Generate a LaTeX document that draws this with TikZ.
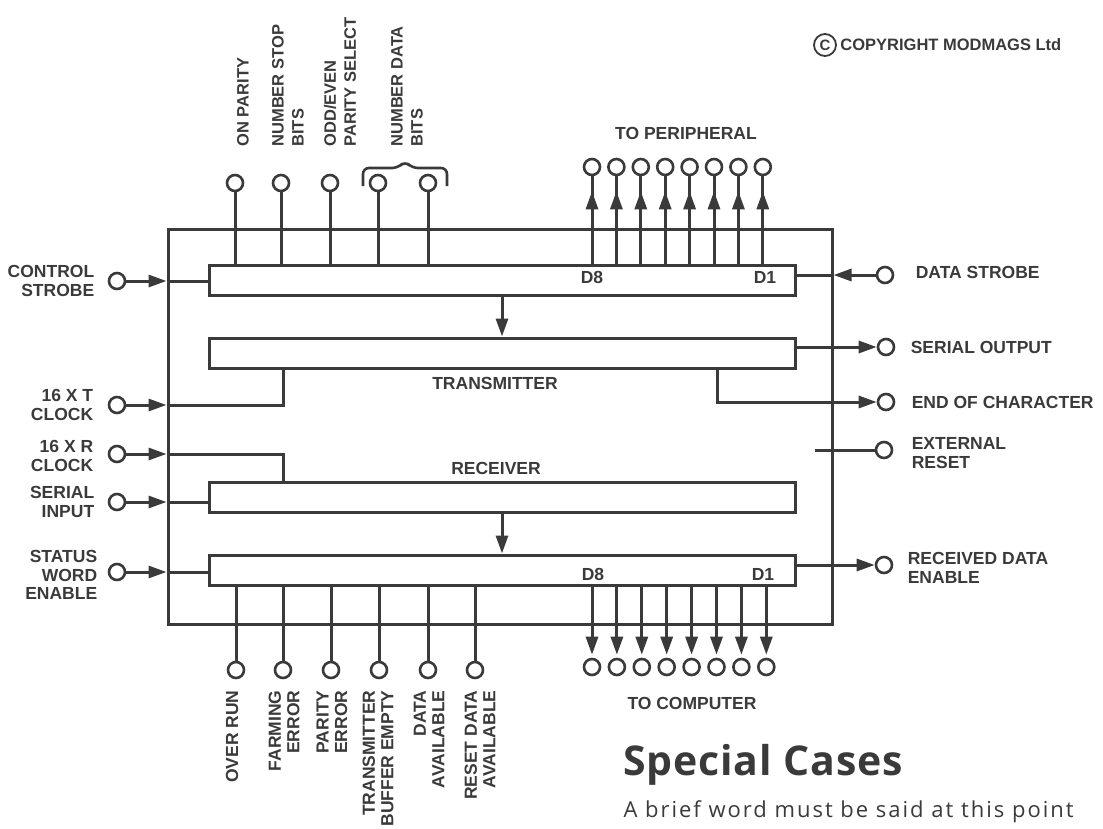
\documentclass[tikz,border=0pt]{standalone}
\usepackage{fontspec}
\setmainfont{Liberation Sans}
\newfontfamily\headfont[LetterSpace=2]{Open Sans}
\newfontfamily\bodyfont[LetterSpace=9]{Open Sans}
\usetikzlibrary{arrows.meta,positioning}
\definecolor{ink}{HTML}{3A3A3A}

\begin{document}
\begin{tikzpicture}[x=1pt, y=-1pt, >={Triangle[length=18pt,width=12pt]}, line width=3pt, color=ink,
  font=\fontsize{17.5}{18.5}\selectfont\bfseries]

% Styles
\tikzstyle{term} = [circle, draw, fill=white, minimum size=16pt, inner sep=0pt, line width=2.6pt]
\tikzstyle{reg} = [draw, rectangle, minimum width=586pt, minimum height=30pt, inner sep=0pt]
\tikzstyle{lbl} = [inner sep=0pt]
\tikzstyle{toplbl} = [inner sep=0pt, rotate=90, anchor=west, align=left, font=\fontsize{16.5}{20}\selectfont\bfseries]
\tikzstyle{botlbl} = [inner sep=0pt, rotate=90, anchor=east, align=right]

\useasboundingbox (0,0) rectangle (1103,828);

% Chip and registers
\node[draw, rectangle, minimum width=664pt, minimum height=395pt, inner sep=0pt] (chip) at (500,426.5) {};
\node[reg] (inreg) at (502,280.5) {};
\node[reg] (txreg) at (502,353) {};
\node[reg] (rxreg) at (502,497.5) {};
\node[reg] (outreg) at (502,570) {};
\draw[->] (inreg) -- (txreg);
\draw[->] (rxreg) -- (outreg);
\node[lbl] (txlbl) at (495,383) {TRANSMITTER};
\node[lbl] (rxlbl) at (496,468) {RECEIVER};

% Control inputs on top
\foreach \x/\n in {235/onpar, 281/nstop, 330/oddeven, 378/ndata, 428/ndatb} {
  \node[term] (\n) at (\x,183) {};
  \draw (\n) -- (\n |- inreg.north);
}
\node[toplbl] (onparlbl) at (243,148) {ON PARITY};
\node[toplbl] (nstoplbl) at (288,148) {NUMBER STOP\\BITS};
\node[toplbl] (oddevenlbl) at (340,148) {ODD/EVEN\\PARITY SELECT};
\node[toplbl] (ndatalbl) at (407,148) {NUMBER DATA\\BITS};
\draw[line width=2.6pt, rounded corners=6pt] (363,186) -- (363,168) -- (398,168) -- (405,161) -- (412,168) -- (447,168) -- (447,186);

% To peripheral
\foreach \i in {1,...,8} {
  \pgfmathsetmacro{\x}{592+(\i-1)*24.4}
  \node[term] (per\i) at (\x,167) {};
  \draw (per\i) -- (per\i |- inreg.north);
  \draw[->] (per\i |- inreg.north) -- ([yshift=-15pt]per\i.south);
}
\node[lbl] (perlbl) at (686,133) {TO PERIPHERAL};
\node[lbl] (d8in) at (592,277) {D8};
\node[lbl] (d1in) at (765,277) {D1};

% To computer
\foreach \i in {1,...,8} {
  \pgfmathsetmacro{\x}{592+(\i-1)*24.9}
  \node[term] (com\i) at (\x,667) {};
  \draw[->, shorten >=3pt] (com\i |- outreg.south) -- (com\i);
}
\node[lbl] (comlbl) at (692,703) {TO COMPUTER};
\node[lbl] (d8out) at (593,574) {D8};
\node[lbl] (d1out) at (763,574) {D1};

% Status outputs at the bottom
\foreach \x/\n in {236/ovr, 283/ferr, 331/perr, 379/tbe, 428/dav, 475/rda} {
  \node[term] (\n) at (\x,670) {};
  \draw (\n) -- (\n |- outreg.south);
}
\node[botlbl] (ovrlbl) at (232,689) {OVER RUN};
\node[botlbl] (ferrlbl) at (284,689) {FARMING\\ERROR};
\node[botlbl] (perrlbl) at (332,689) {PARITY\\ERROR};
\node[botlbl] (tbelbl) at (378,689) {TRANSMITTER\\BUFFER EMPTY};
\node[botlbl] (davlbl) at (429,689) {DATA\\AVAILABLE};
\node[botlbl] (rdalbl) at (480,689) {RESET DATA\\AVAILABLE};

% Left side
\node[term] (cstb) at (117,281) {};
\node[term] (tclk) at (117,405) {};
\node[term] (rclk) at (117,454) {};
\node[term] (sin) at (117,502) {};
\node[term] (swe) at (117,572) {};
\node[lbl, left=12pt of cstb, align=right] (cstblbl) {CONTROL\\STROBE};
\node[lbl, left=13pt of tclk, align=right] (tclklbl) {16 X T\\CLOCK};
\node[lbl, left=13pt of rclk, yshift=-2pt, align=right] (rclklbl) {16 X R\\CLOCK};
\node[lbl, left=12pt of sin, align=right] (sinlbl) {SERIAL\\INPUT};
\node[lbl, left=9pt of swe, yshift=-3pt, align=right] (swelbl) {STATUS\\WORD\\ENABLE};
\coordinate (ttap) at (283,368);
\coordinate (rtap) at (283,482);
\draw[->] (cstb) -- (cstb -| chip.west);
\draw (cstb -| chip.west) -- (cstb -| inreg.west);
\draw[->] (tclk) -- (tclk -| chip.west);
\draw (tclk -| chip.west) -| (ttap);
\draw[->] (rclk) -- (rclk -| chip.west);
\draw (rclk -| chip.west) -| (rtap);
\draw[->] (sin) -- (sin -| chip.west);
\draw (sin -| chip.west) -- (sin -| rxreg.west);
\draw[->] (swe) -- (swe -| chip.west);
\draw (swe -| chip.west) -- (swe -| outreg.west);

% Right side
\node[term] (dstb) at (885,275) {};
\node[term] (sout) at (886,347) {};
\node[term] (eoc) at (886,402) {};
\node[term] (xrst) at (884,450) {};
\node[term] (rde) at (884,565) {};
\node[lbl, right=20pt of dstb, yshift=3pt, align=left] (dstblbl) {DATA STROBE};
\node[lbl, right=14pt of sout, align=left] (soutlbl) {SERIAL OUTPUT};
\node[lbl, right=15pt of eoc, align=left] (eoclbl) {END OF CHARACTER};
\node[lbl, right=17pt of xrst, yshift=-3pt, align=left] (xrstlbl) {EXTERNAL\\RESET};
\node[lbl, right=13pt of rde, yshift=-3pt, align=left] (rdelbl) {RECEIVED DATA\\ENABLE};
\coordinate (etap) at (717,368);
\coordinate (rstend) at (815,450);
\draw[->] (dstb) -- (dstb -| chip.east);
\draw (dstb -| chip.east) -- (dstb -| inreg.east);
\draw[->] (sout -| txreg.east) -- (sout);
\draw[->] (etap) |- (eoc);
\draw (rstend) -- (xrst);
\draw[->] (rde -| outreg.east) -- (rde);

% Copyright and text
\node[circle, draw, line width=1.8pt, minimum size=22pt, inner sep=0pt, font=\fontsize{15}{15}\selectfont\bfseries] (cc) at (825,45) {C};
\node[lbl, right=2pt of cc, font=\fontsize{16.5}{18}\selectfont\bfseries] (copy) {COPYRIGHT MODMAGS Ltd};
\node[lbl, anchor=base west, font=\headfont\bfseries\fontsize{41}{46}\selectfont] (head) at (622,775) {Special Cases};
\node[lbl, anchor=base west, font=\bodyfont\fontsize{22}{24}\selectfont] (body) at (622,817) {A brief word must be said at this point};

\end{tikzpicture}
\end{document}
